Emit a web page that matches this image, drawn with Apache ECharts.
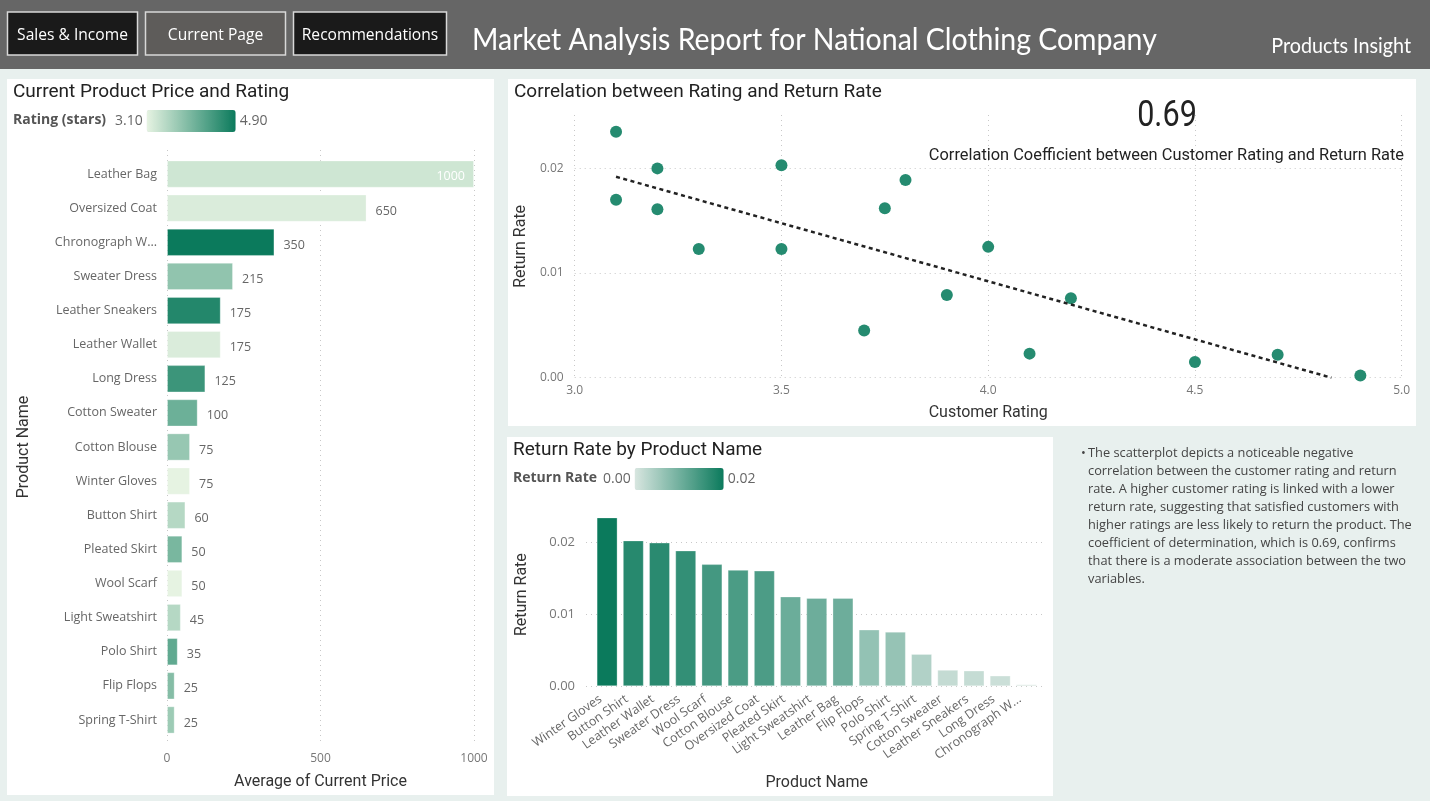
<!DOCTYPE html>
<html><head><meta charset="utf-8">
<style>html,body{margin:0;padding:0;background:#E8F0EE}#c{width:1430px;height:801px}</style>
<script src="https://cdn.jsdelivr.net/npm/echarts@6/dist/echarts.min.js"></script>
</head><body><div id="c"></div>
<script>
const priceProducts=['Leather Bag','Oversized Coat','Chronograph W...','Sweater Dress','Leather Sneakers','Leather Wallet','Long Dress','Cotton Sweater','Cotton Blouse','Winter Gloves','Button Shirt','Pleated Skirt','Wool Scarf','Light Sweatshirt','Polo Shirt','Flip Flops','Spring T-Shirt'];
const prices=[1000,650,350,215,175,175,125,100,75,75,60,50,50,45,35,25,25];
const ratings=[3.3,3.2,4.9,3.8,4.7,3.2,4.5,4.1,3.75,3.1,3.5,4.0,3.1,3.5,4.2,3.9,3.7];
const returnProducts=['Winter Gloves','Button Shirt','Leather Wallet','Sweater Dress','Wool Scarf','Cotton Blouse','Oversized Coat','Pleated Skirt','Light Sweatshirt','Leather Bag','Flip Flops','Polo Shirt','Spring T-Shirt','Cotton Sweater','Leather Sneakers','Long Dress','Chronograph W...'];
const returnRates=[0.0235,0.0203,0.0200,0.0189,0.0170,0.0162,0.0161,0.0125,0.0123,0.0123,0.0079,0.0076,0.0045,0.0023,0.0022,0.0015,0.0002];
const scatterRatings=[3.1,3.5,3.2,3.8,3.1,3.75,3.2,4.0,3.5,3.3,3.9,4.2,3.7,4.1,4.7,4.5,4.9];
const trendX=[3.1,4.83];
const trendY=[0.0192,0];
const noteLines=['The scatterplot depicts a noticeable negative','correlation between the customer rating and return','rate. A higher customer rating is linked with a lower','return rate, suggesting that satisfied customers with','higher ratings are less likely to return the product. The','coefficient of determination, which is 0.69, confirms','that there is a moderate association between the two','variables.'];

const SEG='"Open Sans",sans-serif', DIN='Roboto,sans-serif', HEAD='Lato,sans-serif';
const dot={color:'#C8C8C8',type:[1,4],width:1};
const tick={color:'#777',fontFamily:SEG,fontSize:12};
const axisName={color:'#333',fontFamily:DIN,fontSize:16,fontWeight:400};
const barBorder={borderColor:'rgba(255,255,255,0.3)',borderWidth:1};
function panel(x,y,w,h){return {type:'rect',z:-10,shape:{x,y,width:w,height:h},style:{fill:'#fff'},silent:true};}
function txt(x,y,t,font,fill,align,scaleX){return {type:'text',z:5,x,y,scaleX:scaleX||1,style:{text:t,font,fill,align:align||'left',verticalAlign:'middle'},silent:true};}
function button(x,w,label,fill){return [
 {type:'rect',z:1,shape:{x:x,y:12,width:w,height:43},style:{fill,stroke:'#D8D8D8',lineWidth:1.5},silent:true},
 txt(x+w/2,36,label,'15.6px '+SEG,'#fff','center')];}
const graphic=[
 {type:'rect',z:-10,shape:{x:0,y:0,width:1430,height:69},style:{fill:'#666666'},silent:true},
 panel(7,79,487,716),panel(508,79,908,347),panel(507,437,546,359),
 ...button(7.5,130,'Sales & Income','#1A1A1A'),
 ...button(145.5,140,'Current Page','#5E5C5A'),
 ...button(293.5,153,'Recommendations','#1A1A1A'),
 txt(472,40,'Market Analysis Report for National Clothing Company','31px '+HEAD,'#fff','left',0.918),
 txt(1411,46,'Products Insight','21px '+HEAD,'#fff','right',0.94),
 txt(13,92,'Current Product Price and Rating','400 19px '+DIN,'#222'),
 txt(514,92,'Correlation between Rating and Return Rate','400 19px '+DIN,'#222'),
 txt(513,450,'Return Rate by Product Name','400 19px '+DIN,'#222'),
 txt(13,120,'Rating (stars)','bold 14px '+SEG,'#555'),
 txt(513,478,'Return Rate','bold 14px '+SEG,'#555'),
 txt(1167,117,'0.69','400 36px '+DIN,'#222','center',0.85),
 txt(1404,156,'Correlation Coefficient between Customer Rating and Return Rate','16.4px '+DIN,'#222','right'),
 txt(1081,453,'\u2022','12.8px '+SEG,'#444'),
 ...noteLines.map((l,i)=>txt(1088,453.5+i*18,l,'12.8px '+SEG,'#444'))
];
const option={
 animation:false,
 backgroundColor:'#E8F0EE',
 graphic:{elements:graphic},
 grid:[
  {left:167,width:307,top:157,height:580},
  {left:167,width:307,top:150,height:594},
  {left:574.7,width:827,top:115,height:262.7},
  {left:594,width:445.5,top:503,height:183.3},
  {left:586,width:458,top:503,height:183.3}
 ],
 xAxis:[
  {gridIndex:0,type:'value',min:0,max:1000,show:false},
  {gridIndex:1,type:'value',min:0,max:1000,interval:500,name:'Average of Current Price',nameLocation:'middle',nameGap:30,nameTextStyle:axisName,
   axisLine:{show:false},axisTick:{show:false},axisLabel:Object.assign({},tick,{margin:9,formatter:v=>String(v)}),splitLine:{show:true,lineStyle:dot}},
  {gridIndex:2,type:'value',min:3,max:5,interval:0.5,name:'Customer Rating',nameLocation:'middle',nameGap:27,nameTextStyle:axisName,
   axisLine:{show:false},axisTick:{show:false},axisLabel:Object.assign({},tick,{margin:7,formatter:v=>v.toFixed(1)}),splitLine:{show:true,lineStyle:dot}},
  {gridIndex:3,type:'category',data:returnProducts,name:'Product Name',nameLocation:'middle',nameGap:89,nameTextStyle:axisName,
   axisLine:{show:false},axisTick:{show:false},axisLabel:{color:'#666',fontFamily:SEG,fontSize:12.5,rotate:35,margin:7,interval:0,padding:[0,8,0,0]},splitLine:{show:false}},
  {gridIndex:4,type:'value',min:0,max:1,show:false}
 ],
 yAxis:[
  {gridIndex:0,type:'category',inverse:true,data:priceProducts,name:'Product Name',nameLocation:'middle',nameGap:135,nameTextStyle:axisName,
   axisLine:{show:false},axisTick:{show:false},axisLabel:{color:'#666',fontFamily:SEG,fontSize:12.5,margin:10,interval:0,padding:[5,0,0,0]}},
  {gridIndex:1,type:'value',min:0,max:1,show:false},
  {gridIndex:2,type:'value',min:0,max:0.0251,interval:0.01,name:'Return Rate',nameLocation:'middle',nameGap:43,nameTextStyle:axisName,
   axisLine:{show:false},axisTick:{show:false},axisLabel:Object.assign({},tick,{margin:11,showMaxLabel:false,padding:[4,0,0,0],formatter:v=>v.toFixed(2)}),splitLine:{show:true,showMaxLine:false,lineStyle:dot}},
  {gridIndex:3,type:'value',min:0,max:0.0255,show:false},
  {gridIndex:4,type:'value',min:0,max:0.0255,interval:0.01,name:'Return Rate',nameLocation:'middle',nameGap:56,nameTextStyle:axisName,
   axisLine:{show:false},axisTick:{show:false},axisLabel:Object.assign({},tick,{fontSize:13,margin:11,showMaxLabel:false,padding:[4,0,0,0],formatter:v=>v.toFixed(2)}),splitLine:{show:true,showMaxLine:false,lineStyle:dot}}
 ],
 visualMap:[
  {type:'continuous',seriesIndex:0,dimension:2,min:3.1,max:4.9,orient:'horizontal',left:100,top:95,itemWidth:22,itemHeight:89,text:['4.90','3.10'],textGap:4,borderRadius:0,
   calculable:false,hoverLink:false,textStyle:{color:'#666',fontFamily:SEG,fontSize:14},inRange:{color:['#E6F3E2','#0B7A5C']}},
  {type:'continuous',seriesIndex:3,dimension:1,min:0,max:0.0235,orient:'horizontal',left:588,top:453,itemWidth:22,itemHeight:89,text:['0.02','0.00'],textGap:4,borderRadius:0,
   calculable:false,hoverLink:false,textStyle:{color:'#666',fontFamily:SEG,fontSize:14},inRange:{color:['#D8E6E0','#0B7A5C']}}
 ],
 series:[
  {type:'bar',xAxisIndex:0,yAxisIndex:0,barWidth:'80%',itemStyle:barBorder,
   data:prices.map((p,i)=>({value:[p,priceProducts[i],ratings[i]],
     label:p===Math.max(...prices)?{position:'insideRight',distance:9,color:'#fff',offset:[0,2]}:undefined})),
   encode:{x:0,y:1},
   label:{show:true,position:'right',distance:9,offset:[0,3],color:'#666',fontFamily:SEG,fontSize:12.5,formatter:o=>String(o.value[0])}},
  {type:'scatter',xAxisIndex:2,yAxisIndex:2,symbolSize:12,clip:false,itemStyle:{color:'#258B70',opacity:1},
   data:scatterRatings.map((r,i)=>[r,returnRates[i]])},
  {type:'line',xAxisIndex:2,yAxisIndex:2,symbol:'none',silent:true,lineStyle:{color:'#222',width:2.5,type:[4,3.5]},
   data:trendX.map((x,i)=>[x,trendY[i]])},
  {type:'bar',xAxisIndex:3,yAxisIndex:3,barWidth:'80%',barMinHeight:2,itemStyle:barBorder,
   data:returnProducts.map((n,i)=>[n,returnRates[i]])}
 ]
};
const chart=echarts.init(document.getElementById('c'),null,{renderer:'canvas',width:1430,height:801});
chart.setOption(option);
</script></body></html>
